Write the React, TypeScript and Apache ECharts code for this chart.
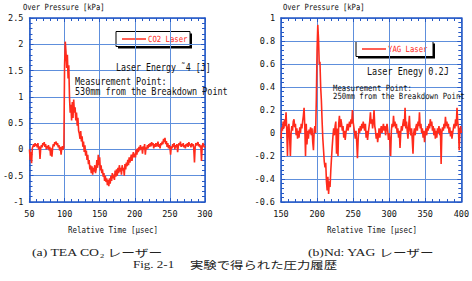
import React, { useEffect, useRef } from "react";
import * as echarts from "echarts";

// ---- Data ----
const co2Start = 50; // µs, 1 µs sampling
const co2Pressure = [
  0.0, -0.2, -0.05, -0.26, 0.02, 0.06, 0.1, 0.05, 0.12, 0.07,
  0.1, 0.04, 0.12, 0.0, 0.06, -0.18, 0.02, 0.08, 0.04, 0.12,
  0.08, 0.14, 0.05, 0.1, 0.0, 0.06, 0.02, 0.08, -0.02, 0.05,
  -0.12, 0.02, -0.14, 0.04, 0.1, 0.06, 0.14, 0.1, 0.15, 0.08,
  0.12, 0.04, 0.08, -0.02, 0.05, -0.1, 0.02, 0.06, 0.0, 0.04,
  1.6, 2.05, 1.85, 1.55, 1.8, 1.35, 1.6, 1.0, 0.7, 0.85,
  0.55, 0.9, 0.6, 0.95, 0.7, 0.8, 0.55, 0.7, 0.45, 0.6,
  0.35, 0.3, 0.2, 0.35, 0.15, 0.25, 0.05, 0.15, -0.05, 0.08,
  -0.12, -0.02, -0.2, -0.1, -0.28, -0.2, -0.38, -0.3, -0.45, -0.32,
  -0.48, -0.35, -0.42, -0.3, -0.45, -0.38, -0.2, -0.35, -0.1, -0.3,
  -0.15, -0.4, -0.3, -0.45, -0.38, -0.52, -0.45, -0.6, -0.5, -0.62,
  -0.55, -0.68, -0.58, -0.7, -0.55, -0.65, -0.5, -0.6, -0.45, -0.55,
  -0.48, -0.58, -0.4, -0.52, -0.38, -0.5, -0.35, -0.45, -0.3, -0.42,
  -0.35, -0.48, -0.3, -0.4, -0.35, -0.5, -0.28, -0.38, -0.25, -0.32,
  -0.2, -0.3, -0.15, -0.25, -0.18, -0.1, -0.22, -0.12, -0.05, -0.15,
  -0.08, -0.15, 0.0, -0.1, 0.02, -0.05, 0.05, -0.02, 0.08, 0.0,
  0.05, -0.08, 0.06, 0.0, 0.1, -0.1, 0.04, 0.0, 0.08, 0.02,
  0.1, 0.05, 0.12, 0.06, 0.14, 0.08, 0.12, 0.02, 0.1, 0.05,
  0.12, 0.06, 0.08, 0.15, 0.05, 0.1, 0.02, 0.12, 0.08, 0.15,
  0.1, 0.2, 0.14, 0.22, 0.1, 0.16, 0.05, 0.12, 0.02, 0.08,
  0.04, -0.1, 0.06, 0.02, 0.1, 0.05, 0.12, 0.0, 0.08, 0.04,
  0.1, -0.05, 0.06, 0.12, 0.08, 0.15, 0.05, 0.1, 0.06, 0.12,
  0.04, 0.08, 0.02, 0.1, 0.06, 0.12, 0.05, 0.14, 0.08, 0.1,
  0.04, 0.12, 0.06, 0.1, 0.02, -0.25, 0.05, 0.12, 0.08, 0.1,
  0.14, 0.06, 0.1, 0.04, 0.08, -0.22, 0.05, 0.12, 0.08, 0.04,
  0.06,
];

const yagStart = 150; // µs, 1 µs sampling
const yagPressure = [
  -0.05, 0.05, 0.02, 0.1, 0.04, 0.12, 0.06, 0.18, 0.02, -0.2,
  0.05, 0.08, -0.05, -0.2, 0.0, 0.06, 0.02, 0.1, 0.12, 0.05,
  0.08, -0.02, 0.04, -0.05, 0.02, -0.04, 0.05, 0.0, 0.08, 0.04,
  0.1, 0.15, 0.22, 0.05, -0.2, 0.08, -0.1, 0.02, -0.05, 0.03,
  0.0, 0.05, -0.02, 0.04, -0.08, -0.15, 0.02, 0.06, 0.0, 0.3,
  0.72, 0.94, 0.82, 0.6, 0.62, 0.4, 0.28, 0.1, -0.05, -0.15,
  -0.25, -0.3, -0.26, -0.42, -0.5, -0.38, -0.53, -0.42, -0.47, -0.33,
  -0.22, -0.12, -0.03, 0.04, -0.02, 0.06, 0.1, -0.18, 0.04, -0.2,
  0.08, 0.15, 0.05, 0.12, 0.08, 0.02, 0.06, -0.04, 0.02, -0.06,
  0.0, 0.04, 0.08, 0.02, 0.06, 0.1, 0.05, 0.12, 0.08, 0.2,
  0.1, 0.05, 0.0, -0.05, 0.02, -0.08, -0.22, -0.05, 0.04, 0.0,
  0.06, 0.02, 0.08, 0.04, 0.1, 0.06, 0.02, 0.08, -0.04, 0.02,
  -0.06, 0.0, 0.05, 0.1, 0.18, 0.08, 0.12, 0.04, 0.1, 0.2,
  0.06, 0.02, -0.05, 0.0, -0.08, -0.02, 0.04, -0.04, 0.02, 0.06,
  0.0, 0.04, 0.08, 0.02, 0.06, -0.02, 0.04, 0.08, 0.02, -0.06,
  0.0, -0.08, -0.2, 0.02, 0.08, 0.05, 0.15, 0.06, 0.1, 0.04,
  0.08, 0.0, 0.04, -0.04, 0.02, -0.13, 0.0, 0.06, 0.02, 0.08,
  0.12, 0.06, 0.22, 0.04, 0.1, 0.02, -0.05, 0.06, 0.15, 0.02,
  -0.02, 0.04, -0.06, -0.18, 0.0, 0.04, -0.02, 0.05, 0.08, 0.02,
  0.1, 0.06, 0.18, 0.04, 0.08, 0.0, 0.04, -0.04, 0.02, -0.08,
  0.0, 0.04, -0.02, 0.06, 0.02, 0.08, 0.04, 0.12, 0.06, 0.1,
  0.02, 0.06, -0.02, 0.04, -0.05, 0.02, -0.04, 0.04, 0.0, 0.06,
  -0.02, 0.04, -0.27, 0.0, 0.05, 0.02, 0.08, 0.04, 0.14, 0.06,
  0.1, 0.04, 0.08, 0.0, 0.05, -0.03, 0.02, -0.05, 0.0, 0.04,
  0.08, 0.04, 0.12, 0.06, 0.22, 0.1, 0.04, -0.15, 0.02, 0.06,
  0.0,
];

const co2Range = { min: 50, max: 300, interval: 50 };
const co2YRange = { min: -1, max: 2.5, interval: 0.5 };
const yagRange = { min: 150, max: 400, interval: 50 };
const yagYRange = { min: -0.6, max: 1, interval: 0.2 };

const co2Legend = "CO2 Laser";
const yagLegend = "YAG Laser";
const yTitle = "Over Pressure [kPa]";
const xTitle = "Relative Time [\u03bcsec]";

// ---- Styling ----
const RED = "#ff2b1c";
const FRAME = "#2558c6";
const GRID = "#5e8fdc";
const MONO = "DejaVu Sans Mono, monospace";
const SERIF = "Liberation Serif, serif";
const CJK = "Noto Sans CJK JP, sans-serif";

function toPairs(start: number, values: number[]) {
  return values.map((v, i) => [start + i, v]);
}

function fmtY(v: number) {
  const r = Math.round(v * 10) / 10;
  return String(r);
}

function axisCommon(showLabel: boolean) {
  return {
    axisLine: { show: true, onZero: false, lineStyle: { color: FRAME, width: 1.5 } },
    axisTick: { show: true, inside: true, length: 4, lineStyle: { color: FRAME, width: 1 } },
    minorTick: { show: true, splitNumber: 5, length: 3, lineStyle: { color: FRAME, width: 1 } },
    axisLabel: {
      show: showLabel,
      color: "#111",
      fontFamily: MONO,
      fontSize: 8.5,
    },
  };
}

function xAxes(range: { min: number; max: number; interval: number }, gridIndex: number) {
  return [
    {
      type: "value",
      gridIndex,
      position: "bottom",
      min: range.min,
      max: range.max,
      interval: range.interval,
      ...axisCommon(true),
      axisLabel: { ...axisCommon(true).axisLabel, margin: 7 },
      splitLine: { show: true, lineStyle: { color: GRID, width: 1 } },
    },
    {
      type: "value",
      gridIndex,
      position: "top",
      min: range.min,
      max: range.max,
      interval: range.interval,
      ...axisCommon(false),
      splitLine: { show: false },
    },
  ];
}

function yAxes(range: { min: number; max: number; interval: number }, gridIndex: number) {
  return [
    {
      type: "value",
      gridIndex,
      position: "left",
      min: range.min,
      max: range.max,
      interval: range.interval,
      ...axisCommon(true),
      axisLabel: { ...axisCommon(true).axisLabel, margin: 6, formatter: (v: number) => fmtY(v) },
      splitLine: { show: true, lineStyle: { color: GRID, width: 1 } },
    },
    {
      type: "value",
      gridIndex,
      position: "right",
      min: range.min,
      max: range.max,
      interval: range.interval,
      ...axisCommon(false),
      splitLine: { show: false },
    },
  ];
}

function monoText(text: string, x: number, y: number, fontSize: number, scaleX: number, fill = "#111", align = "left") {
  return {
    type: "text",
    x,
    y,
    scaleX,
    z: 20,
    style: {
      text,
      fill,
      fontFamily: MONO,
      fontSize,
      textAlign: align,
      textVerticalAlign: "middle",
      verticalAlign: "middle",
    },
  };
}

function captionText(text: string, x: number, y: number, family: string, scaleX: number, scaleY: number) {
  return {
    type: "text",
    x,
    y,
    scaleX,
    scaleY,
    style: {
      text,
      fontSize: 13,
      fontFamily: family,
      fill: "#222",
      verticalAlign: "middle",
      textVerticalAlign: "middle",
    },
  };
}

function legendBox(x: number, y: number, w: number, h: number, label: string) {
  return {
    type: "group",
    z: 20,
    children: [
      { type: "rect", shape: { x: x + 2, y: y + 2, width: w, height: h }, style: { fill: "#000" } },
      { type: "rect", shape: { x, y, width: w, height: h }, style: { fill: "#fff", stroke: "#000", lineWidth: 1 } },
      { type: "line", shape: { x1: x + 6, y1: y + h / 2, x2: x + 30, y2: y + h / 2 }, style: { stroke: RED, lineWidth: 1.5 } },
      {
        type: "text",
        x: x + 32,
        y: y + h / 2,
        scaleX: 0.86,
        style: { text: label, fill: RED, fontFamily: MONO, fontSize: 8.5, verticalAlign: "middle", textVerticalAlign: "middle" },
      },
    ],
  };
}

export default function App() {
  const ref = useRef<HTMLDivElement>(null);

  useEffect(() => {
    if (!ref.current) return;
    const chart = echarts.init(ref.current, undefined, { renderer: "svg" });
    const option: any = {
      animation: false,
      backgroundColor: "#fff",
      grid: [
        { left: 22, top: 18, width: 183, height: 184, show: false },
        { left: 281, top: 18, width: 184, height: 184, show: false },
      ],
      xAxis: [...xAxes(co2Range, 0), ...xAxes(yagRange, 1)],
      yAxis: [...yAxes(co2YRange, 0), ...yAxes(yagYRange, 1)],
      series: [
        {
          name: co2Legend,
          type: "line",
          xAxisIndex: 0,
          yAxisIndex: 0,
          data: toPairs(co2Start, co2Pressure),
          showSymbol: false,
          lineStyle: { color: RED, width: 1.6 },
          itemStyle: { color: RED },
          z: 5,
        },
        {
          name: yagLegend,
          type: "line",
          xAxisIndex: 2,
          yAxisIndex: 2,
          data: toPairs(yagStart, yagPressure),
          showSymbol: false,
          lineStyle: { color: RED, width: 1.6 },
          itemStyle: { color: RED },
          z: 5,
        },
      ],
      graphic: [
        // axis titles
        monoText(yTitle, 23, 7.5, 8.5, 0.84),
        monoText(yTitle, 283, 7.5, 8.5, 0.84),
        monoText(xTitle, 113, 230, 9, 0.83, "#111", "center"),
        monoText(xTitle, 372, 230, 9, 0.83, "#111", "center"),
        // annotations left
        monoText("Laser Energy \u02dc4 [J]", 116, 67, 10.5, 0.79),
        monoText("Measurement Point:", 75, 81, 11, 0.77),
        monoText("530mm from the Breakdown Point", 75, 91, 11, 0.77),
        // annotations right
        monoText("Laser Enegy 0.2J", 367, 71, 10, 0.85),
        monoText("Measurement Point:", 333, 88, 8.5, 0.86),
        monoText("250mm from the Breakdown Point", 333, 96.5, 8.5, 0.86),
        // legends
        legendBox(116, 31.5, 74, 15, co2Legend),
        legendBox(356, 41.5, 77, 15, yagLegend),
        // captions
        {
          type: "text",
          x: 32,
          y: 252.5,
          scaleX: 1.06,
          scaleY: 0.8,
          style: {
            text: "{a|(a) TEA CO}{s|2}{b| レーザー}",
            verticalAlign: "middle",
            textVerticalAlign: "middle",
            rich: {
              a: { fontSize: 13, fontFamily: SERIF, fill: "#222", color: "#222" },
              b: { fontSize: 13, fontFamily: CJK, fill: "#222", color: "#222" },
              s: { fontSize: 8, fontFamily: SERIF, fill: "#222", color: "#222", padding: [8, 0, 0, 0] },
            },
          },
        },
        {
          type: "text",
          x: 308,
          y: 252.5,
          scaleX: 1.05,
          scaleY: 0.8,
          style: {
            text: "{a|(b)Nd: YAG }{b|レーザー}",
            verticalAlign: "middle",
            textVerticalAlign: "middle",
            rich: {
              a: { fontSize: 13, fontFamily: SERIF, fill: "#222", color: "#222" },
              b: { fontSize: 13, fontFamily: CJK, fill: "#222", color: "#222" },
            },
          },
        },
        captionText("Fig. 2-1", 133, 264.5, SERIF, 1.0, 0.8),
        captionText("実験で得られた圧力履歴", 190, 264.5, CJK, 1.03, 0.8),
      ],
    };
    chart.setOption(option);
    return () => chart.dispose();
  }, []);

  return (
    <div
      ref={ref}
      style={{ position: "absolute", left: 0, top: 0, width: 472, height: 281, background: "#fff" }}
    />
  );
}
